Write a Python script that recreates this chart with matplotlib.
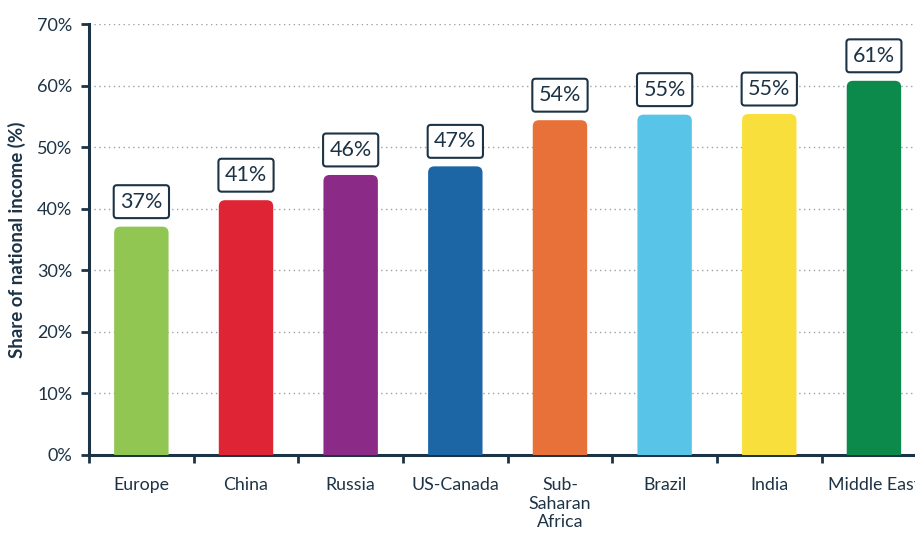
import matplotlib
matplotlib.use("Agg")
from matplotlib import pyplot as plt
from matplotlib.patches import FancyBboxPatch
import numpy as np

regions = ["Europe", "China", "Russia", "US-Canada", "Sub-\nSaharan\nAfrica",
           "Brazil", "India", "Middle East"]
shares = [37.1, 41.4, 45.5, 46.9, 54.4, 55.3, 55.4, 60.8]
bar_colors = ["#92c652", "#df2436", "#8c2b87", "#1d66a6", "#e8713a",
              "#58c4e8", "#f9df3c", "#0b8a4b"]
y_ticks = [0, 10, 20, 30, 40, 50, 60, 70]

navy = "#1c3346"
plt.rcParams["font.family"] = ["Lato", "DejaVu Sans"]

fig = plt.figure(figsize=(9.15, 5.46), dpi=100)
ax = fig.add_axes([0.0973, 0.1667, 0.915, 0.789])

x = np.arange(len(regions))
bars = ax.bar(x, shares, width=0.52, color="none")

# swap the plain rectangles for ones with rounded tops
for b, c in zip(bars, bar_colors):
    r = FancyBboxPatch((b.get_x(), -3), b.get_width(), b.get_height() + 3,
                       boxstyle="round,pad=0,rounding_size=0.06",
                       mutation_aspect=17, facecolor=c, edgecolor="none",
                       zorder=3)
    ax.add_patch(r)
    b.remove()

for xi, v in zip(x, shares):
    ax.annotate("{:.0f}%".format(v), (xi, v), xytext=(0, 18),
                textcoords="offset points", ha="center", va="center",
                fontsize=15.5, color=navy, zorder=5,
                bbox=dict(boxstyle="round,pad=0.3,rounding_size=0.15",
                          facecolor="white", edgecolor=navy, linewidth=1.5))

ax.set_xlim(-0.5, len(regions) - 0.5)
ax.set_ylim(0, 70)
ax.set_yticks(y_ticks)
ax.set_yticklabels(["{}%".format(t) for t in y_ticks], fontsize=13, color=navy)

ax.set_xticks(np.arange(len(regions) + 1) - 0.5)
ax.set_xticklabels([])
ax.set_xticks(x, minor=True)
ax.set_xticklabels(regions, minor=True, fontsize=12.8, color=navy,
                   linespacing=1.2, va="top")
ax.tick_params(axis="x", which="minor", length=0, pad=16)
ax.tick_params(axis="x", which="major", length=6, width=2, color=navy)
ax.tick_params(axis="y", length=6, width=2, color=navy, pad=6)

for t in y_ticks[1:]:
    ax.axhline(t, color="#9aa3aa", linestyle=(0, (1, 2.5)), linewidth=1, zorder=1)

ax.set_ylabel("Share of national income (%)", fontsize=13.5, fontweight="bold",
              color=navy, labelpad=8)

for s in ["top", "right"]:
    ax.spines[s].set_visible(False)
for s in ["left", "bottom"]:
    ax.spines[s].set_color(navy)
    ax.spines[s].set_linewidth(2.2)

fig.savefig("out.png", dpi=100)
